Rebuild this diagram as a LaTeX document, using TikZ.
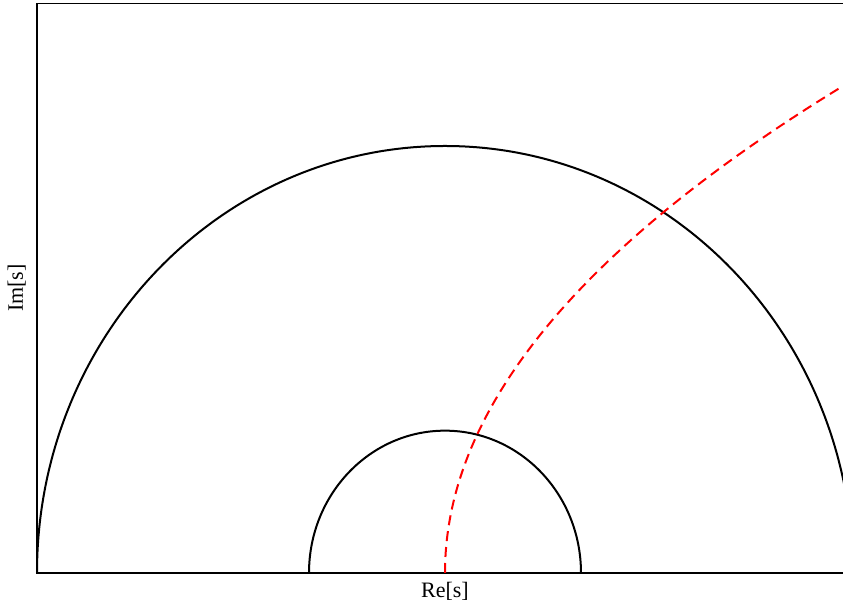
\documentclass[tikz,border=0pt]{standalone}
\usepackage{fontspec}
\setmainfont{Liberation Serif}
\usetikzlibrary{positioning}

\begin{document}
\begin{tikzpicture}[x=204pt, y=213.5pt, font=\fontsize{11}{13}\selectfont]
    \tikzstyle{frame} = [line width=0.6pt, black]
    \tikzstyle{circ} = [line width=1pt, black]
    \tikzstyle{locus} = [line width=1pt, red, dash pattern=on 5pt off 3pt]
    \tikzstyle{axlabel} = [inner sep=0pt, anchor=center]

    % image edges in data units: one pixel is 0.5pt
    \useasboundingbox (-1.0907,-0.0749) rectangle (0.9755,1.3419);
    \clip (-1.0907,-0.0749) rectangle (0.9755,1.3419);

    % axes box (the right side lies just outside the picture)
    \coordinate (bl) at (-1,0);
    \coordinate (tl) at (-1,1.333);
    \draw [frame] (1.1,1.333) -- (tl) -- (bl) -- (1.1,0);

    % the two half circles
    \draw [circ] (1,0) arc [start angle=0, end angle=180, radius=1];
    \draw [circ] (1/3,0) arc [start angle=0, end angle=180, radius=1/3];

    % parabola x = 3/4 y^2
    \draw [locus] plot [domain=0:1.2, samples=80, smooth] ({0.75*\x*\x}, \x);

    \node (re) [axlabel] at (0,-0.043) {Re[s]};
    \node (im) [axlabel, rotate=90] at (-1.05,0.6675) {Im[s]};
\end{tikzpicture}
\end{document}
